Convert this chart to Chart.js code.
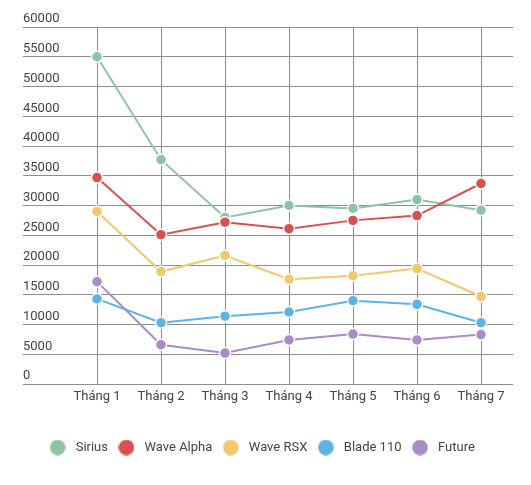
<!DOCTYPE html>
<html>
<head>
<meta charset="utf-8">
<script src="https://cdn.jsdelivr.net/npm/chart.js@4"></script>
<style>
  html, body { margin: 0; padding: 0; background: #ffffff; }
  #wrap { width: 531px; height: 485px; }
</style>
</head>
<body>
<div id="wrap"><canvas id="c" width="531" height="485"></canvas></div>
<script>
const categories = ['Tháng 1', 'Tháng 2', 'Tháng 3', 'Tháng 4', 'Tháng 5', 'Tháng 6', 'Tháng 7'];
const seriesNames = ['Sirius', 'Wave Alpha', 'Wave RSX', 'Blade 110', 'Future'];
const sirius    = [55000, 37700, 28000, 30000, 29500, 31000, 29200];
const waveAlpha = [34700, 25100, 27200, 26100, 27500, 28300, 33700];
const waveRSX   = [29000, 18900, 21600, 17600, 18200, 19400, 14700];
const blade110  = [14300, 10300, 11400, 12100, 14000, 13400, 10300];
const future    = [17200, 6600, 5200, 7400, 8400, 7400, 8300];
const yMin = 0, yMax = 60000, yStep = 5000;

const seriesValues = [sirius, waveAlpha, waveRSX, blade110, future];
const colors = ['#8cc4a5', '#d9504f', '#f0c96a', '#5cb4e4', '#a98cc6'];

Chart.defaults.font.family = 'Roboto';
Chart.defaults.font.size = 13;
Chart.defaults.color = '#444444';

function dot(color) {
  const c = document.createElement('canvas');
  c.width = 16; c.height = 16;
  const g = c.getContext('2d');
  g.fillStyle = color;
  g.beginPath();
  g.arc(8, 8, 7.8, 0, Math.PI * 2);
  g.fill();
  return c;
}

const gridColor = '#8e8e8e';

const datasets = seriesNames.map((name, i) => ({
  label: name,
  data: seriesValues[i],
  borderColor: colors[i],
  backgroundColor: colors[i],
  borderWidth: 2,
  pointRadius: 5.5,
  pointBorderWidth: 1.5,
  pointBorderColor: '#ffffff',
  pointBackgroundColor: colors[i],
  tension: 0,
  fill: false,
  order: seriesNames.length - i
}));

new Chart(document.getElementById('c'), {
  type: 'line',
  data: { labels: categories, datasets },
  options: {
    responsive: false,
    animation: false,
    events: [],
    layout: { padding: { left: 0, right: 10, top: 27, bottom: 21 } },
    scales: {
      x: {
        offset: true,
        grid: { offset: false, drawTicks: false, color: gridColor, lineWidth: 1 },
        border: { display: false },
        ticks: { padding: 5, color: '#444444', font: { size: 13 } },
        afterFit: (s) => { s.height = 50; }
      },
      y: {
        min: yMin,
        max: yMax,
        position: 'left',
        grid: { drawTicks: true, tickLength: 42, color: gridColor, lineWidth: 1 },
        border: { display: false },
        ticks: {
          stepSize: yStep,
          mirror: true,
          padding: -42,
          labelOffset: -8,
          color: '#444444',
          font: { size: 13 },
          callback: (v) => String(v)
        },
        afterFit: (s) => { s.width = 65; }
      },
      y2: {
        position: 'right',
        display: true,
        grid: { display: false },
        border: { display: false },
        ticks: { display: false },
        afterFit: (s) => { s.width = 8; }
      }
    },
    plugins: {
      tooltip: { enabled: false },
      legend: {
        position: 'bottom',
        labels: {
          usePointStyle: true,
          pointStyleWidth: 23,
          padding: 7,
          color: '#444444',
          font: { size: 13 },
          generateLabels: (chart) => {
            const items = Chart.defaults.plugins.legend.labels.generateLabels(chart);
            items.sort((a, b) => a.datasetIndex - b.datasetIndex);
            items.forEach((it) => { it.pointStyle = dot(colors[it.datasetIndex]); });
            return items;
          }
        }
      }
    }
  }
});
</script>
</body>
</html>
